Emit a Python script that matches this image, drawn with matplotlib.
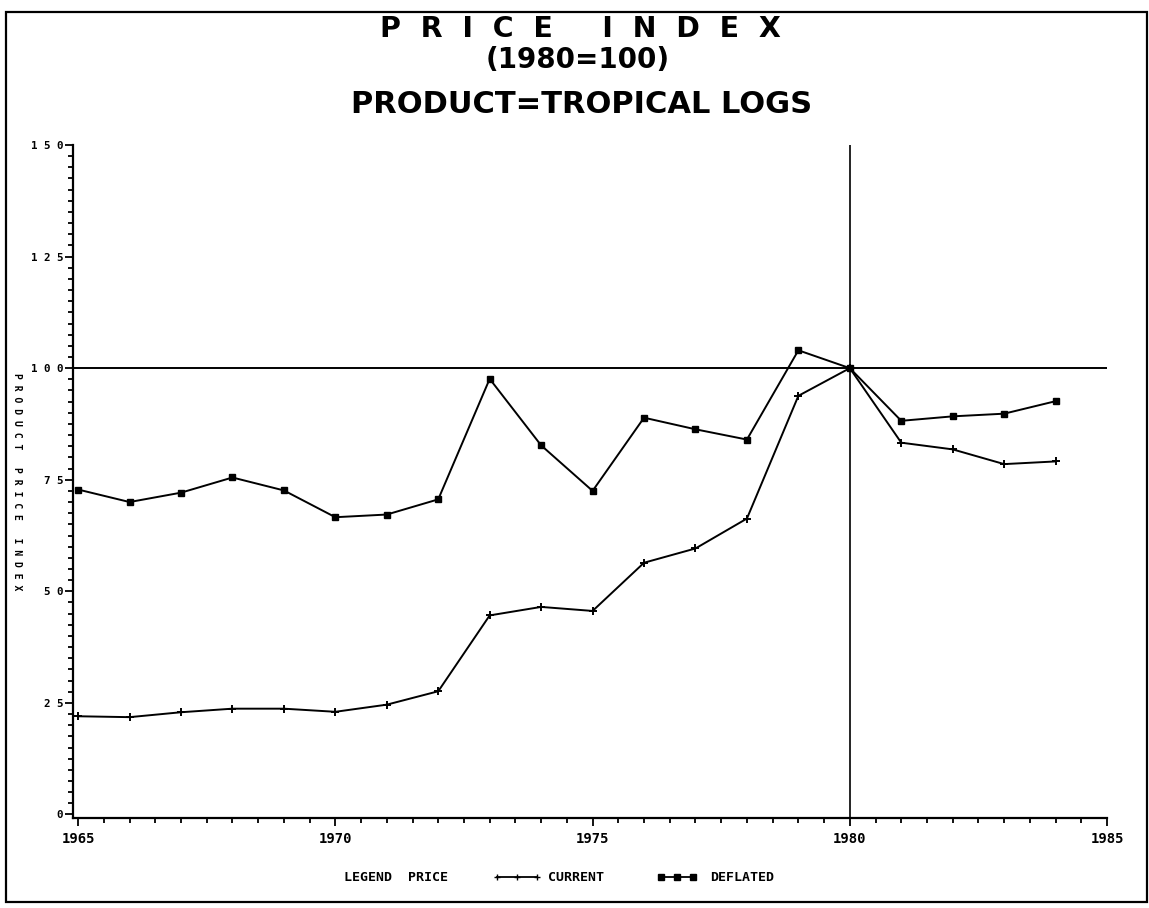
"""Price index chart for tropical logs, current vs deflated (1980=100)."""
import matplotlib
matplotlib.use('Agg')
import matplotlib.pyplot as plt
from matplotlib.lines import Line2D
from matplotlib.patches import Rectangle
from matplotlib.ticker import MultipleLocator

years = list(range(1965, 1985))
current = [22.0, 21.8, 22.9, 23.7, 23.7, 23.0, 24.6, 27.6, 44.6, 46.5,
           45.6, 56.4, 59.6, 66.3, 93.8, 100.0, 83.3, 81.8, 78.5, 79.1]
deflated = [72.8, 70.0, 72.1, 75.5, 72.6, 66.6, 67.2, 70.6, 97.6, 82.7,
            72.5, 88.9, 86.3, 84.0, 104.0, 100.0, 88.2, 89.2, 89.8, 92.6]

x_ticks = [1965, 1970, 1975, 1980, 1985]
y_ticks = [0, 25, 50, 75, 100, 125, 150]

MONO = 'DejaVu Sans Mono'
TITLE = 'DejaVu Sans'

fig = plt.figure(figsize=(11.49, 9.08), dpi=100)
ax = fig.add_axes([0.0635, 0.0991, 0.9, 0.7412])

ax.plot(years, current, color='black', linewidth=1.4, marker='+',
        markersize=6, markeredgewidth=1.4)
ax.plot(years, deflated, color='black', linewidth=1.4, marker='s',
        markersize=5)

ax.axhline(100, color='black', linewidth=1.4)
ax.axvline(1980, color='black', linewidth=1.2)

ax.set_xlim(1964.9, 1985)
ax.set_ylim(-0.8, 150)
ax.set_xticks(x_ticks)
ax.set_xticklabels([str(t) for t in x_ticks], fontsize=10)
ax.set_yticks(y_ticks)
# plotter-style wide digits
ax.set_yticklabels([' '.join(str(t)) for t in y_ticks], fontsize=7.8)
ax.xaxis.set_minor_locator(MultipleLocator(0.5))
ax.yaxis.set_minor_locator(MultipleLocator(2.5))
ax.tick_params(which='major', length=6, width=1.3, direction='out')
ax.tick_params(axis='x', pad=4)
ax.tick_params(axis='y', pad=1)
ax.tick_params(which='minor', length=3.5, width=1.3, direction='out')
for lab in ax.get_xticklabels() + ax.get_yticklabels():
    lab.set_fontfamily(MONO)
    lab.set_fontweight('bold')

for side in ('top', 'right'):
    ax.spines[side].set_visible(False)
for side in ('left', 'bottom'):
    ax.spines[side].set_linewidth(1.6)

# stacked y label
fig.text(0.0148, 0.469, 'P R O D U C T   P R I C E   I N D E X', rotation=-90,
         ha='center', va='center', fontsize=7, family=MONO, fontweight='bold')

# titles
fig.text(0.505, 0.968, 'P  R  I  C  E     I  N  D  E  X', ha='center',
         va='center', fontsize=20.5, family=TITLE, fontweight='bold')
fig.text(0.503, 0.934, '(1980=100)', ha='center', va='center',
         fontsize=20, family=TITLE, fontweight='bold')
fig.text(0.506, 0.885, 'PRODUCT=TROPICAL LOGS', ha='center', va='center',
         fontsize=22, family=TITLE, fontweight='bold')

# legend along the bottom
ly = 0.034
fig.text(0.345, ly, 'LEGEND  PRICE', ha='center', va='center', fontsize=9.5,
         family=MONO, fontweight='bold')
fig.add_artist(Line2D([0.4326, 0.4674], [ly, ly], color='black', linewidth=1.3,
                      marker='+', markersize=5, transform=fig.transFigure))
fig.add_artist(Line2D([0.45], [ly], color='black', marker='+', markersize=5,
                      linestyle='none', transform=fig.transFigure))
fig.text(0.477, ly, 'CURRENT', ha='left', va='center', fontsize=9.5,
         family=MONO, fontweight='bold')
fig.add_artist(Line2D([0.5755, 0.6035], [ly, ly], color='black', linewidth=1.3,
                      marker='s', markersize=4.5, transform=fig.transFigure))
fig.add_artist(Line2D([0.5895], [ly], color='black', marker='s', markersize=4.5,
                      linestyle='none', transform=fig.transFigure))
fig.text(0.618, ly, 'DEFLATED', ha='left', va='center', fontsize=9.5,
         family=MONO, fontweight='bold')

# outer frame
fig.add_artist(Rectangle((0.005, 0.007), 0.993, 0.98, fill=False,
                         edgecolor='black', linewidth=1.6,
                         transform=fig.transFigure))

fig.savefig('out.png', dpi=100)
